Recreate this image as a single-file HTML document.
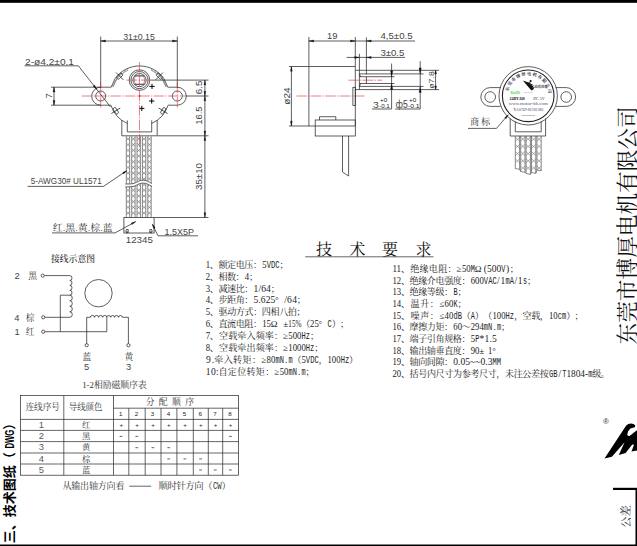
<!DOCTYPE html>
<html lang="zh-CN"><head><meta charset="utf-8"><title>技术图纸（DWG）</title>
<style>
html,body{margin:0;padding:0;background:#fff;}
body{width:637px;height:546px;overflow:hidden;}
svg{display:block;}
.l{stroke:#2a2a2a;stroke-width:.75;fill:none;}
.lt{stroke:#555;stroke-width:.55;fill:none;}
.lw{stroke:#444;stroke-width:.62;fill:none;}
.lw2{stroke:#4a4a4a;stroke-width:.65;fill:none;}
.lx2{stroke:#6a6a6a;stroke-width:.55;fill:none;}
.lx{stroke:#5a5a5a;stroke-width:.55;fill:none;}
.lm{stroke:#222;stroke-width:1.1;fill:none;}
.lk{stroke:#2a2a2a;stroke-width:.72;fill:none;}
.lg{stroke:#555;stroke-width:.9;fill:#ddd;}
.k{stroke:#000;stroke-width:1;fill:none;}
.r{stroke:#e0323c;stroke-width:.62;fill:none;stroke-dasharray:10.5 1.3 1.3 1.3;}
.rf{fill:#d22;stroke:none;}
.kf{fill:#111;stroke:none;}
.a{fill:#111;stroke:#111;stroke-width:.3;}
text{font-family:"Liberation Sans","Noto Sans CJK SC",sans-serif;fill:#444;}
.d{font-size:9.4px;}
.d7{font-size:7.4px;}
.d6{font-size:6.2px;fill:#222;}
.d5{font-size:5.8px;fill:#222;}
.c9,.c9s,.c9b,.c87,.t16,.co,.c11,.lab{font-family:"Liberation Serif","Noto Serif CJK SC",serif;}
.c9{font-size:8.8px;fill:#333;}
.c9s{font-size:9px;fill:#333;}
.c9b{font-size:8.8px;fill:#222;font-weight:500;}
.c87{font-size:8.7px;fill:#222;}
.mono{font-family:"Liberation Mono",monospace;}
.t16{font-size:16px;fill:#111;}
.co{font-size:21.6px;fill:#111;}
.lt2{font-family:"Liberation Sans","Noto Sans CJK SC",sans-serif;font-size:13px;font-weight:700;fill:#000;}
.c11{font-size:11px;fill:#223;}
.lab{fill:#222;}
</style></head>
<body>
<svg width="637" height="546" viewBox="0 0 637 546">
<rect x="0" y="0" width="637" height="546" fill="#fff"/>
<rect x="0" y="0" width="637" height="2.8" fill="#000"/>
<rect x="0" y="544.5" width="637" height="1.5" fill="#000"/>
<rect x="635.5" y="488" width="1.5" height="58" fill="#000"/>
<rect x="613" y="487.8" width="24" height="2.2" fill="#000"/>
<line class="l" x1="100.7" y1="36.5" x2="100.7" y2="88.0"/>
<line class="l" x1="177.3" y1="36.5" x2="177.3" y2="88.0"/>
<line class="l" x1="100.7" y1="41.0" x2="177.3" y2="41.0"/>
<polygon class="a" points="100.7,41.0 105.5,40.0 105.5,42.0"/>
<polygon class="a" points="177.3,41.0 172.5,42.0 172.5,40.0"/>
<text class="d" x="139.0" y="39.6" textLength="31.5" lengthAdjust="spacingAndGlyphs" text-anchor="middle">31±0.15</text>
<path class="l" d="M115.1,78.5 A30.0,30.0 0 0 1 163.9,78.5"/>
<path class="l" d="M115.1,78.5 L111.2,87.2 L100.7,87.2"/>
<path class="l" d="M163.9,78.5 L167.8,87.2 L177.3,87.2"/>
<path class="l" d="M100.7,87.2 A9,9 0 0 0 100.7,105.2"/>
<path class="l" d="M177.3,87.2 A9,9 0 0 1 177.3,105.2"/>
<path class="l" d="M100.7,105.2 L110.9,105.2 A30.0,30.0 0 0 0 127.3,123.4"/>
<path class="l" d="M177.3,105.2 L168.1,105.2 A30.0,30.0 0 0 1 151.7,123.4"/>
<path class="lt" d="M116.7,79.1 L112.9,87.2"/>
<path class="lt" d="M162.3,79.1 L166.1,87.2"/>
<circle class="l" cx="100.7" cy="96.0" r="5.0"/>
<circle class="l" cx="177.3" cy="96.0" r="5.0"/>
<path class="l" d="M121.8,120.2 V135.8 H157.2 V120.2"/>
<path class="l" d="M127.3,120.4 V131.9 H151.7 V120.4"/>
<circle class="l" cx="139.5" cy="80.1" r="10.3"/>
<circle class="l" cx="139.5" cy="80.1" r="8.6"/>
<circle class="l" cx="139.5" cy="80.1" r="6.6"/>
<rect class="lt" x="134.6" y="75.9" width="9.8" height="8.4" rx="2.2"/>
<line class="l" x1="134.4" y1="75.9" x2="144.6" y2="75.9"/>
<line class="l" x1="134.4" y1="84.3" x2="144.6" y2="84.3"/>
<path class="lt" d="M113.0,86.4 A28.2,28.2 0 0 1 128.0,70.2"/>
<path d="M112.2,86.0 A29.1,29.1 0 0 1 127.7,69.4" fill="none" stroke="#777" stroke-width="1.6" stroke-dasharray="0.5 1.1"/>
<path class="lt" d="M151.0,70.2 A28.2,28.2 0 0 1 166.0,86.4"/>
<path d="M151.3,69.4 A29.1,29.1 0 0 1 166.8,86.0" fill="none" stroke="#777" stroke-width="1.6" stroke-dasharray="0.5 1.1"/>
<g transform="translate(119.7,76.2) rotate(225)"><rect class="l" x="-1.5" y="-3.4" width="3" height="6.8" rx="1.2"/><line class="l" x1="-5.2" y1="0" x2="5.2" y2="0"/></g>
<g transform="translate(159.3,76.2) rotate(315)"><rect class="l" x="-1.5" y="-3.4" width="3" height="6.8" rx="1.2"/><line class="l" x1="-5.2" y1="0" x2="5.2" y2="0"/></g>
<g transform="translate(115.8,110.8) rotate(148)"><rect class="l" x="-1.5" y="-3.4" width="3" height="6.8" rx="1.2"/><line class="l" x1="-5.2" y1="0" x2="5.2" y2="0"/></g>
<g transform="translate(163.2,110.8) rotate(32)"><rect class="l" x="-1.5" y="-3.4" width="3" height="6.8" rx="1.2"/><line class="l" x1="-5.2" y1="0" x2="5.2" y2="0"/></g>
<path class="k" d="M149.4,86.4 H154.6 M152,83.80000000000001 V89.0"/>
<path class="k" d="M149.1,101 H154.29999999999998 M151.7,98.4 V103.6"/>
<path class="k" d="M139.20000000000002,108.4 H144.4 M141.8,105.80000000000001 V111.0"/>
<line class="r" x1="139.5" y1="62.0" x2="139.5" y2="148.0"/>
<line class="r" x1="81.7" y1="96.0" x2="185.5" y2="96.0"/>
<line class="r" x1="126.5" y1="80.1" x2="150.4" y2="80.1"/>
<line class="r" x1="100.7" y1="82.5" x2="100.7" y2="108.8"/>
<line class="r" x1="177.3" y1="82.5" x2="177.3" y2="108.8"/>
<circle class="rf" cx="139.5" cy="96.0" r="1.0"/>
<line class="l" x1="150.5" y1="80.1" x2="208.5" y2="80.1"/>
<line class="l" x1="185.5" y1="96.0" x2="208.5" y2="96.0"/>
<line class="l" x1="157.5" y1="135.8" x2="208.5" y2="135.8"/>
<line class="l" x1="154.5" y1="217.5" x2="208.5" y2="217.5"/>
<line class="l" x1="204.9" y1="80.1" x2="204.9" y2="217.5"/>
<polygon class="a" points="204.9,80.1 205.8,84.9 204.0,84.9"/>
<polygon class="a" points="204.9,96.0 204.0,91.2 205.8,91.2"/>
<polygon class="a" points="204.9,96.0 205.8,100.8 204.0,100.8"/>
<polygon class="a" points="204.9,135.8 204.0,131.0 205.8,131.0"/>
<polygon class="a" points="204.9,135.8 205.8,140.6 204.0,140.6"/>
<polygon class="a" points="204.9,217.5 204.0,212.7 205.8,212.7"/>
<text class="d" x="201.8" y="87.4" textLength="13.6" lengthAdjust="spacingAndGlyphs" transform="rotate(-90 201.8 87.4)" text-anchor="middle">6.5</text>
<text class="d" x="201.8" y="115.6" textLength="18.4" lengthAdjust="spacingAndGlyphs" transform="rotate(-90 201.8 115.6)" text-anchor="middle">16.5</text>
<text class="d" x="201.8" y="176.5" textLength="27.0" lengthAdjust="spacingAndGlyphs" transform="rotate(-90 201.8 176.5)" text-anchor="middle">35±10</text>
<line class="l" x1="51.0" y1="87.2" x2="100.7" y2="87.2"/>
<line class="l" x1="51.0" y1="105.2" x2="100.7" y2="105.2"/>
<line class="l" x1="54.0" y1="87.2" x2="54.0" y2="105.2"/>
<polygon class="a" points="54.0,87.2 55.0,92.0 53.0,92.0"/>
<polygon class="a" points="54.0,105.2 53.0,100.4 55.0,100.4"/>
<text class="d" x="51.5" y="96.0" transform="rotate(-90 51.5 96.0)" text-anchor="middle">7</text>
<text class="d" x="25.0" y="64.8" textLength="49.0" lengthAdjust="spacingAndGlyphs">2-ø4.2±0.1</text>
<path class="l" d="M24.5,65.8 H78.4 L110.5,107"/>
<polygon class="a" points="96.9,89.6 93.1,86.2 94.5,85.1"/>
<path class="lx" d="M126.3,137.3 L129.7,140.6 M129.7,137.3 L126.3,140.6 M126.3,143.0 L129.7,146.3 M129.7,143.0 L126.3,146.3 M126.3,148.7 L129.7,152.0 M129.7,148.7 L126.3,152.0 M126.3,154.4 L129.7,157.7 M129.7,154.4 L126.3,157.7 M126.3,160.1 L129.7,163.4 M129.7,160.1 L126.3,163.4 M126.3,165.8 L129.7,169.1 M129.7,165.8 L126.3,169.1 M126.3,171.5 L129.7,174.8 M129.7,171.5 L126.3,174.8 M126.3,177.2 L129.7,180.5 M129.7,177.2 L126.3,180.5 M126.3,182.9 L129.7,186.2 M129.7,182.9 L126.3,186.2 M126.3,188.6 L129.7,191.9 M129.7,188.6 L126.3,191.9 M126.3,194.3 L129.7,197.6 M129.7,194.3 L126.3,197.6 M126.3,200.0 L129.7,203.3 M129.7,200.0 L126.3,203.3 M126.3,205.7 L129.7,209.0 M129.7,205.7 L126.3,209.0 M126.3,211.4 L129.7,214.7 M129.7,211.4 L126.3,214.7 M131.7,137.3 L135.1,140.6 M135.1,137.3 L131.7,140.6 M131.7,143.0 L135.1,146.3 M135.1,143.0 L131.7,146.3 M131.7,148.7 L135.1,152.0 M135.1,148.7 L131.7,152.0 M131.7,154.4 L135.1,157.7 M135.1,154.4 L131.7,157.7 M131.7,160.1 L135.1,163.4 M135.1,160.1 L131.7,163.4 M131.7,165.8 L135.1,169.1 M135.1,165.8 L131.7,169.1 M131.7,171.5 L135.1,174.8 M135.1,171.5 L131.7,174.8 M131.7,177.2 L135.1,180.5 M135.1,177.2 L131.7,180.5 M131.7,182.9 L135.1,186.2 M135.1,182.9 L131.7,186.2 M131.7,188.6 L135.1,191.9 M135.1,188.6 L131.7,191.9 M131.7,194.3 L135.1,197.6 M135.1,194.3 L131.7,197.6 M131.7,200.0 L135.1,203.3 M135.1,200.0 L131.7,203.3 M131.7,205.7 L135.1,209.0 M135.1,205.7 L131.7,209.0 M131.7,211.4 L135.1,214.7 M135.1,211.4 L131.7,214.7 M137.0,137.3 L140.4,140.6 M140.4,137.3 L137.0,140.6 M137.0,143.0 L140.4,146.3 M140.4,143.0 L137.0,146.3 M137.0,148.7 L140.4,152.0 M140.4,148.7 L137.0,152.0 M137.0,154.4 L140.4,157.7 M140.4,154.4 L137.0,157.7 M137.0,160.1 L140.4,163.4 M140.4,160.1 L137.0,163.4 M137.0,165.8 L140.4,169.1 M140.4,165.8 L137.0,169.1 M137.0,171.5 L140.4,174.8 M140.4,171.5 L137.0,174.8 M137.0,177.2 L140.4,180.5 M140.4,177.2 L137.0,180.5 M137.0,182.9 L140.4,186.2 M140.4,182.9 L137.0,186.2 M137.0,188.6 L140.4,191.9 M140.4,188.6 L137.0,191.9 M137.0,194.3 L140.4,197.6 M140.4,194.3 L137.0,197.6 M137.0,200.0 L140.4,203.3 M140.4,200.0 L137.0,203.3 M137.0,205.7 L140.4,209.0 M140.4,205.7 L137.0,209.0 M137.0,211.4 L140.4,214.7 M140.4,211.4 L137.0,214.7 M142.4,137.3 L145.8,140.6 M145.8,137.3 L142.4,140.6 M142.4,143.0 L145.8,146.3 M145.8,143.0 L142.4,146.3 M142.4,148.7 L145.8,152.0 M145.8,148.7 L142.4,152.0 M142.4,154.4 L145.8,157.7 M145.8,154.4 L142.4,157.7 M142.4,160.1 L145.8,163.4 M145.8,160.1 L142.4,163.4 M142.4,165.8 L145.8,169.1 M145.8,165.8 L142.4,169.1 M142.4,171.5 L145.8,174.8 M145.8,171.5 L142.4,174.8 M142.4,177.2 L145.8,180.5 M145.8,177.2 L142.4,180.5 M142.4,182.9 L145.8,186.2 M145.8,182.9 L142.4,186.2 M142.4,188.6 L145.8,191.9 M145.8,188.6 L142.4,191.9 M142.4,194.3 L145.8,197.6 M145.8,194.3 L142.4,197.6 M142.4,200.0 L145.8,203.3 M145.8,200.0 L142.4,203.3 M142.4,205.7 L145.8,209.0 M145.8,205.7 L142.4,209.0 M142.4,211.4 L145.8,214.7 M145.8,211.4 L142.4,214.7 M147.8,137.3 L151.2,140.6 M151.2,137.3 L147.8,140.6 M147.8,143.0 L151.2,146.3 M151.2,143.0 L147.8,146.3 M147.8,148.7 L151.2,152.0 M151.2,148.7 L147.8,152.0 M147.8,154.4 L151.2,157.7 M151.2,154.4 L147.8,157.7 M147.8,160.1 L151.2,163.4 M151.2,160.1 L147.8,163.4 M147.8,165.8 L151.2,169.1 M151.2,165.8 L147.8,169.1 M147.8,171.5 L151.2,174.8 M151.2,171.5 L147.8,174.8 M147.8,177.2 L151.2,180.5 M151.2,177.2 L147.8,180.5 M147.8,182.9 L151.2,186.2 M151.2,182.9 L147.8,186.2 M147.8,188.6 L151.2,191.9 M151.2,188.6 L147.8,191.9 M147.8,194.3 L151.2,197.6 M151.2,194.3 L147.8,197.6 M147.8,200.0 L151.2,203.3 M151.2,200.0 L147.8,203.3 M147.8,205.7 L151.2,209.0 M151.2,205.7 L147.8,209.0 M147.8,211.4 L151.2,214.7 M151.2,211.4 L147.8,214.7"/>
<line class="lw" x1="126.3" y1="136.3" x2="126.3" y2="217.5"/>
<line class="lw" x1="129.7" y1="136.3" x2="129.7" y2="217.5"/>
<line class="lw" x1="131.7" y1="136.3" x2="131.7" y2="217.5"/>
<line class="lw" x1="135.1" y1="136.3" x2="135.1" y2="217.5"/>
<line class="lw" x1="137.0" y1="136.3" x2="137.0" y2="217.5"/>
<line class="lw" x1="140.4" y1="136.3" x2="140.4" y2="217.5"/>
<line class="lw" x1="142.4" y1="136.3" x2="142.4" y2="217.5"/>
<line class="lw" x1="145.8" y1="136.3" x2="145.8" y2="217.5"/>
<line class="lw" x1="147.8" y1="136.3" x2="147.8" y2="217.5"/>
<line class="lw" x1="151.2" y1="136.3" x2="151.2" y2="217.5"/>
<path d="M125.4,185.4 C131,185.4 133.5,185.4 136.5,183.8 S141,181.6 143.6,181.6 S148.5,183.2 152,184.9" fill="none" stroke="#fff" stroke-width="3.3"/>
<path class="l" d="M125.4,184.0 C131,184.0 133.5,184.0 136.5,182.3 S141,180.2 143.6,180.2 S148.5,181.8 152,183.5"/>
<path class="l" d="M125.4,186.9 C131,186.9 133.5,186.9 136.5,185.2 S141,183.1 143.6,183.1 S148.5,184.7 152,186.4"/>
<rect class="l" x="123.9" y="217.5" width="30.2" height="15.5"/>
<path class="l" d="M124.6,231 h2.4 v2 M153.4,231 h-2.4 v2 M126,229.5 h2.2 v3.2 h-2.2 M152,229.5 h-2.2 v3.2 h2.2"/>
<text class="d" x="139.3" y="242.6" textLength="27.0" lengthAdjust="spacingAndGlyphs" text-anchor="middle">12345</text>
<text class="d" x="164.5" y="235.0" textLength="29.5" lengthAdjust="spacingAndGlyphs">1.5X5P</text>
<path class="l" d="M198,235.8 H158 L152.5,224.5"/>
<polygon class="a" points="152.3,224.0 155.1,227.7 153.5,228.4"/>
<text class="d" x="30.7" y="183.9" textLength="71.0" lengthAdjust="spacingAndGlyphs">5-AWG30# UL1571</text>
<path class="l" d="M27.6,186.4 H103.5 L126.6,170.8"/>
<polygon class="a" points="126.9,170.6 123.7,173.9 122.7,172.4"/>
<text class="c9" x="52.8" y="230.5" textLength="60.0" lengthAdjust="spacingAndGlyphs">红.黑.黄.棕.蓝</text>
<path class="l" d="M52,232.9 H115 L135.5,221.8"/>
<polygon class="a" points="135.7,221.6 132.1,224.5 131.3,222.9"/>
<line class="l" x1="308.9" y1="37.0" x2="308.9" y2="126.0"/>
<line class="l" x1="355.3" y1="37.0" x2="355.3" y2="126.0"/>
<line class="l" x1="308.9" y1="66.5" x2="355.3" y2="66.5"/>
<line class="l" x1="308.9" y1="126.0" x2="315.2" y2="126.0"/>
<line class="l" x1="308.9" y1="41.0" x2="415.0" y2="41.0"/>
<polygon class="a" points="308.9,41.0 313.7,40.0 313.7,42.0"/>
<polygon class="a" points="355.3,41.0 350.5,42.0 350.5,40.0"/>
<polygon class="a" points="366.4,41.0 371.2,40.0 371.2,42.0"/>
<text class="d" x="332.3" y="39.4" text-anchor="middle">19</text>
<text class="d" x="380.4" y="39.2" textLength="32.2" lengthAdjust="spacingAndGlyphs">4,5±0.5</text>
<line class="l" x1="346.6" y1="57.4" x2="405.0" y2="57.4"/>
<polygon class="a" points="359.4,57.4 354.6,58.4 354.6,56.4"/>
<polygon class="a" points="366.4,57.4 371.2,56.4 371.2,58.4"/>
<text class="d" x="380.4" y="55.6" textLength="24.0" lengthAdjust="spacingAndGlyphs">3±0.5</text>
<line class="l" x1="359.4" y1="53.8" x2="359.4" y2="70.3"/>
<line class="l" x1="366.4" y1="37.4" x2="366.4" y2="74.5"/>
<line class="l" x1="289.0" y1="66.5" x2="308.9" y2="66.5"/>
<line class="l" x1="289.0" y1="126.0" x2="308.9" y2="126.0"/>
<line class="l" x1="291.4" y1="66.5" x2="291.4" y2="126.0"/>
<polygon class="a" points="291.4,66.5 292.3,71.3 290.4,71.3"/>
<polygon class="a" points="291.4,126.0 290.4,121.2 292.3,121.2"/>
<text class="d" x="290.0" y="96.0" textLength="17.3" lengthAdjust="spacingAndGlyphs" transform="rotate(-90 290.0 96.0)" text-anchor="middle">ø24</text>
<line class="r" x1="296.4" y1="96.0" x2="365.0" y2="96.0"/>
<line class="r" x1="348.4" y1="80.2" x2="382.0" y2="80.2"/>
<path class="l" d="M355.3,70.3 H439 M355.3,89.6 H439 M359.4,70.3 V89.6"/>
<path class="l" d="M359.4,73.9 H423.5 M359.4,86.4 H423.5 M359.4,76.7 H394.5 M359.4,83.5 H394.5 M366.4,76.7 V83.5"/>
<path class="l" d="M359.4,73.9 L360.6,76.7 M359.4,86.4 L360.6,83.5"/>
<rect class="l" x="352.9" y="87.3" width="2.4" height="18.2"/>
<line class="l" x1="391.6" y1="63.5" x2="391.6" y2="109.0"/>
<polygon class="a" points="391.6,76.7 390.5,70.7 392.8,70.7"/>
<polygon class="a" points="391.6,83.5 392.8,89.5 390.5,89.5"/>
<line class="l" x1="420.2" y1="61.2" x2="420.2" y2="109.0"/>
<polygon class="a" points="420.2,73.9 419.1,67.9 421.3,67.9"/>
<polygon class="a" points="420.2,86.4 421.3,92.4 419.1,92.4"/>
<line class="l" x1="435.6" y1="70.3" x2="435.6" y2="89.6"/>
<polygon class="a" points="435.6,70.3 436.6,73.9 434.7,73.9"/>
<polygon class="a" points="435.6,89.6 434.7,86.0 436.6,86.0"/>
<text class="d7" x="433.8" y="80.0" textLength="17.5" lengthAdjust="spacingAndGlyphs" transform="rotate(-90 433.8 80.0)" text-anchor="middle">ø7.8</text>
<line class="l" x1="372.0" y1="109.0" x2="391.6" y2="109.0"/>
<line class="l" x1="395.2" y1="109.0" x2="420.2" y2="109.0"/>
<text class="d" x="373.0" y="107.6" textLength="5.8" lengthAdjust="spacingAndGlyphs">3</text>
<text class="d5" x="380.0" y="101.6" textLength="7.2" lengthAdjust="spacingAndGlyphs">+0</text>
<text class="d5" x="379.2" y="107.8" textLength="10.6" lengthAdjust="spacingAndGlyphs">-0.1</text>
<text class="d" x="395.8" y="107.6" textLength="12.0" lengthAdjust="spacingAndGlyphs" style="font-size:10px">ф5</text>
<text class="d5" x="409.0" y="101.6" textLength="7.2" lengthAdjust="spacingAndGlyphs">+0</text>
<text class="d5" x="408.0" y="107.8" textLength="11.5" lengthAdjust="spacingAndGlyphs">-0.1</text>
<rect class="l" x="315.2" y="120.0" width="40.1" height="16.0"/>
<line class="l" x1="315.2" y1="126.0" x2="355.3" y2="126.0"/>
<path class="l" d="M319.5,120 V116.7 H335.8 V120"/>
<path class="l" d="M342.5,136 V172 L348.6,176 V136"/>
<circle class="l" cx="528.2" cy="95.8" r="29.2"/>
<circle class="lm" cx="528.2" cy="95.8" r="25.8"/>
<path class="l" d="M500.6,87.6 H490.2 A9.4,9.4 0 0 0 490.2,106.4 H500.6"/>
<circle class="l" cx="490.2" cy="97.0" r="5.3"/>
<path class="l" d="M555.8,87.6 H566.2 A9.4,9.4 0 0 1 566.2,106.4 H555.8"/>
<circle class="l" cx="566.2" cy="97.0" r="5.3"/>
<path class="l" d="M510.2,118.5 V136 H545.6 V118.5"/>
<path class="l" d="M515.3,121.5 V131.8 H541.2 V121.5"/>
<path class="lw2" d="M515.3,136 V168.5 M519.6,136 V169.3"/>
<path class="lx2" d="M515.3,137.2 L519.6,141.2 M519.6,137.2 L515.3,141.2 M515.3,144.4 L519.6,148.4 M519.6,144.4 L515.3,148.4 M515.3,151.6 L519.6,155.6 M519.6,151.6 L515.3,155.6 M515.3,158.8 L519.6,162.8 M519.6,158.8 L515.3,162.8"/>
<path class="lw2" d="M520.7,136 V171.5 M525.0,136 V172.3"/>
<path class="lx2" d="M520.7,137.2 L525.0,141.2 M525.0,137.2 L520.7,141.2 M520.7,144.4 L525.0,148.4 M525.0,144.4 L520.7,148.4 M520.7,151.6 L525.0,155.6 M525.0,151.6 L520.7,155.6 M520.7,158.8 L525.0,162.8 M525.0,158.8 L520.7,162.8 M520.7,166.0 L525.0,170.0 M525.0,166.0 L520.7,170.0"/>
<path class="lw2" d="M526.1,136 V173.5 M530.4,136 V174.3"/>
<path class="lx2" d="M526.1,137.2 L530.4,141.2 M530.4,137.2 L526.1,141.2 M526.1,144.4 L530.4,148.4 M530.4,144.4 L526.1,148.4 M526.1,151.6 L530.4,155.6 M530.4,151.6 L526.1,155.6 M526.1,158.8 L530.4,162.8 M530.4,158.8 L526.1,162.8 M526.1,166.0 L530.4,170.0 M530.4,166.0 L526.1,170.0"/>
<path class="lw2" d="M531.5,136 V172.5 M535.8,136 V173.3"/>
<path class="lx2" d="M531.5,137.2 L535.8,141.2 M535.8,137.2 L531.5,141.2 M531.5,144.4 L535.8,148.4 M535.8,144.4 L531.5,148.4 M531.5,151.6 L535.8,155.6 M535.8,151.6 L531.5,155.6 M531.5,158.8 L535.8,162.8 M535.8,158.8 L531.5,162.8 M531.5,166.0 L535.8,170.0 M535.8,166.0 L531.5,170.0"/>
<path class="lw2" d="M536.9,136 V170 M541.2,136 V170.8"/>
<path class="lx2" d="M536.9,137.2 L541.2,141.2 M541.2,137.2 L536.9,141.2 M536.9,144.4 L541.2,148.4 M541.2,144.4 L536.9,148.4 M536.9,151.6 L541.2,155.6 M541.2,151.6 L536.9,155.6 M536.9,158.8 L541.2,162.8 M541.2,158.8 L536.9,162.8 M536.9,166.0 L541.2,170.0 M541.2,166.0 L536.9,170.0"/>
<path class="lw2" d="M515.3,168.5 L519.6,169.3 L520.7,171.5 L525,172.3 L526.1,173.5 L530.4,174.3 L531.5,172.5 L535.8,173.3 L536.9,170 L541.2,170.8"/>
<path id="arc" d="M508.2,91.9 A20.4,20.4 0 0 1 548.6,94.4" fill="none"/>
<text class="lab" style="font-size:4.3px;font-weight:700;fill:#223"><textPath href="#arc" startOffset="0.5" textLength="57" lengthAdjust="spacing">东莞市博厚电机有限公司</textPath></text>
<path d="M522.8000000000001,80.6 l8.6,9.8 l1.8,-0.9 l1.4,-2.6 l-2.2,0.6 l1.6,-2 l-2.4,0.3 l1.2,-1.8 l-2.6,0.2 l0.6,-1.7 l-3,-0.2 z" fill="#111"/>
<circle class="kf" cx="530.6" cy="81.0" r="1.1"/>
<text class="lab" x="534.5" y="88.2" textLength="13.0" lengthAdjust="spacingAndGlyphs" style="font-size:3.8px;font-weight:700;fill:#333">励博机电</text>
<text class="lab" x="528.2" y="93.0" textLength="9.0" lengthAdjust="spacingAndGlyphs" text-anchor="middle" style="font-size:2px;fill:#666">BO HOU</text>
<text class="lab" x="510.6" y="94.2" textLength="9.5" lengthAdjust="spacingAndGlyphs" style="font-size:4px;fill:#35e035;font-weight:bold">RoHS</text>
<text class="lab" x="509.6" y="99.6" textLength="15.2" lengthAdjust="spacingAndGlyphs" style="font-size:3.8px;font-weight:bold;fill:#111">24BYJ48</text>
<text class="lab" x="533.2" y="99.6" textLength="11.4" lengthAdjust="spacingAndGlyphs" style="font-size:4px;fill:#333">DC 5V</text>
<text class="lab" x="528.2" y="105.2" textLength="39.0" lengthAdjust="spacingAndGlyphs" text-anchor="middle" style="font-size:3px;fill:#556">www.motor-bh.com</text>
<text class="lab" x="528.2" y="111.4" textLength="30.0" lengthAdjust="spacingAndGlyphs" text-anchor="middle" style="font-size:3.2px;fill:#445">Tel:0769-82181380</text>
<text class="lab" x="528.2" y="115.6" textLength="13.5" lengthAdjust="spacingAndGlyphs" text-anchor="middle" style="font-size:2.6px;fill:#666">20090909</text>
<text class="c9" x="470.2" y="124.6" textLength="20.0" lengthAdjust="spacingAndGlyphs">商 标</text>
<path class="l" d="M468,128.4 H496.5 L508,115"/>
<polygon class="a" points="508.3,114.8 506.1,118.8 504.7,117.7"/>
<text class="c9b" x="51.0" y="261.6" textLength="44.0" lengthAdjust="spacingAndGlyphs">接线示意图</text>
<circle class="l" cx="42.7" cy="275.6" r="1.6"/>
<circle class="l" cx="43.2" cy="317.3" r="1.6"/>
<circle class="l" cx="43.2" cy="331.7" r="1.6"/>
<circle class="l" cx="86.7" cy="345.2" r="1.6"/>
<circle class="l" cx="128.4" cy="345.2" r="1.6"/>
<path class="l" d="M44.4,275.6 H69.8"/>
<path class="l" d="M69.8,275.6 a2.20,2.45 0 0 1 0,4.90 a2.20,2.45 0 0 1 0,4.90 a2.20,2.45 0 0 1 0,4.90 a2.20,2.45 0 0 1 0,4.90"/>
<path class="l" d="M69.8,295.2 a2.49,2.76 0 0 1 0,5.53 a2.49,2.76 0 0 1 0,5.53 a2.49,2.76 0 0 1 0,5.53 a2.49,2.76 0 0 1 0,5.53"/>
<path class="l" d="M69.8,295.2 H60.3 V331.7"/>
<path class="l" d="M44.9,317.3 H69.8"/>
<path class="l" d="M44.9,331.7 H106.8 V317.3"/>
<path class="l" d="M86.7,343.5 V317.3 H90.4"/>
<path class="l" d="M90.4,317.3 a2.05,1.84 0 0 1 4.10,0 a2.05,1.84 0 0 1 4.10,0 a2.05,1.84 0 0 1 4.10,0 a2.05,1.84 0 0 1 4.10,0"/>
<path class="l" d="M106.8,317.3 a1.95,1.76 0 0 1 3.90,0 a1.95,1.76 0 0 1 3.90,0 a1.95,1.76 0 0 1 3.90,0 a1.95,1.76 0 0 1 3.90,0"/>
<path class="l" d="M122.4,317.3 H128.4 V343.5"/>
<circle class="l" cx="98.5" cy="293.2" r="13.7"/>
<text class="d" x="14.6" y="278.9">2</text>
<text class="c9" x="28.2" y="278.9">黑</text>
<text class="d" x="14.2" y="321.0">4</text>
<text class="c9" x="25.8" y="321.0">棕</text>
<text class="d" x="14.6" y="335.2">1</text>
<text class="c9" x="25.8" y="335.2">红</text>
<text class="c9" x="86.9" y="359.6" text-anchor="middle">蓝</text>
<text class="d" x="86.7" y="370.0" text-anchor="middle">5</text>
<text class="c9" x="129.0" y="359.6" text-anchor="middle">黄</text>
<text class="d" x="128.6" y="370.0" text-anchor="middle">3</text>
<text class="c9" x="82.2" y="388.2" textLength="64.5" lengthAdjust="spacingAndGlyphs">1-2相励磁顺序表</text>
<rect class="lk" x="20.6" y="395.4" width="217.9" height="79.8"/>
<line class="lk" x1="20.6" y1="419.4" x2="238.5" y2="419.4"/>
<line class="lk" x1="20.6" y1="430.4" x2="238.5" y2="430.4"/>
<line class="lk" x1="20.6" y1="441.6" x2="238.5" y2="441.6"/>
<line class="lk" x1="20.6" y1="453.0" x2="238.5" y2="453.0"/>
<line class="lk" x1="20.6" y1="464.0" x2="238.5" y2="464.0"/>
<line class="lk" x1="113.5" y1="408.2" x2="238.5" y2="408.2"/>
<line class="lk" x1="63.8" y1="395.4" x2="63.8" y2="475.2"/>
<line class="lk" x1="113.5" y1="395.4" x2="113.5" y2="475.2"/>
<line class="lk" x1="128.8" y1="408.2" x2="128.8" y2="475.2"/>
<line class="lk" x1="145.2" y1="408.2" x2="145.2" y2="475.2"/>
<line class="lk" x1="161.0" y1="408.2" x2="161.0" y2="475.2"/>
<line class="lk" x1="176.9" y1="408.2" x2="176.9" y2="475.2"/>
<line class="lk" x1="193.3" y1="408.2" x2="193.3" y2="475.2"/>
<line class="lk" x1="208.3" y1="408.2" x2="208.3" y2="475.2"/>
<line class="lk" x1="222.7" y1="408.2" x2="222.7" y2="475.2"/>
<text class="c9" x="25.4" y="410.4" textLength="34.5" lengthAdjust="spacingAndGlyphs">连线序号</text>
<text class="c9" x="68.8" y="410.4" textLength="33.5" lengthAdjust="spacingAndGlyphs">导线颜色</text>
<text class="c9" x="145.7" y="405.0" textLength="48.3" lengthAdjust="spacing">分 配 顺 序</text>
<text class="d6" x="120.7" y="416.0" text-anchor="middle">1</text>
<text class="d6" x="121.2" y="427.4" text-anchor="middle">+</text>
<text class="d6" x="136.5" y="416.0" text-anchor="middle">2</text>
<text class="d6" x="137.0" y="427.4" text-anchor="middle">+</text>
<text class="d6" x="152.6" y="416.0" text-anchor="middle">3</text>
<text class="d6" x="153.1" y="427.4" text-anchor="middle">+</text>
<text class="d6" x="168.4" y="416.0" text-anchor="middle">4</text>
<text class="d6" x="168.9" y="427.4" text-anchor="middle">+</text>
<text class="d6" x="184.6" y="416.0" text-anchor="middle">5</text>
<text class="d6" x="185.1" y="427.4" text-anchor="middle">+</text>
<text class="d6" x="200.3" y="416.0" text-anchor="middle">6</text>
<text class="d6" x="200.8" y="427.4" text-anchor="middle">+</text>
<text class="d6" x="215.0" y="416.0" text-anchor="middle">7</text>
<text class="d6" x="215.5" y="427.4" text-anchor="middle">+</text>
<text class="d6" x="230.1" y="416.0" text-anchor="middle">8</text>
<text class="d6" x="230.6" y="427.4" text-anchor="middle">+</text>
<text class="d" x="41.4" y="428.0" text-anchor="middle" style="fill:#5a5a5a">1</text>
<text class="c9" x="86.3" y="428.0" text-anchor="middle" style="font-size:8.4px">红</text>
<text class="d" x="41.4" y="439.1" text-anchor="middle" style="fill:#5a5a5a">2</text>
<text class="c9" x="86.3" y="439.1" text-anchor="middle" style="font-size:8.4px">黑</text>
<line class="lk" x1="119.6" y1="436.4" x2="122.4" y2="436.4"/>
<line class="lk" x1="135.4" y1="436.4" x2="138.2" y2="436.4"/>
<line class="lk" x1="229.0" y1="436.4" x2="231.8" y2="436.4"/>
<text class="d" x="41.4" y="450.4" text-anchor="middle" style="fill:#5a5a5a">3</text>
<text class="c9" x="86.3" y="450.4" text-anchor="middle" style="font-size:8.4px">黄</text>
<line class="lk" x1="135.4" y1="447.7" x2="138.2" y2="447.7"/>
<line class="lk" x1="151.5" y1="447.7" x2="154.3" y2="447.7"/>
<line class="lk" x1="167.3" y1="447.7" x2="170.1" y2="447.7"/>
<text class="d" x="41.4" y="461.6" text-anchor="middle" style="fill:#5a5a5a">4</text>
<text class="c9" x="86.3" y="461.6" text-anchor="middle" style="font-size:8.4px">棕</text>
<line class="lk" x1="167.3" y1="458.9" x2="170.1" y2="458.9"/>
<line class="lk" x1="183.5" y1="458.9" x2="186.3" y2="458.9"/>
<line class="lk" x1="199.2" y1="458.9" x2="202.0" y2="458.9"/>
<text class="d" x="41.4" y="472.7" text-anchor="middle" style="fill:#5a5a5a">5</text>
<text class="c9" x="86.3" y="472.7" text-anchor="middle" style="font-size:8.4px">蓝</text>
<line class="lk" x1="199.2" y1="470.0" x2="202.0" y2="470.0"/>
<line class="lk" x1="213.9" y1="470.0" x2="216.7" y2="470.0"/>
<line class="lk" x1="229.0" y1="470.0" x2="231.8" y2="470.0"/>
<text class="c9s" x="62.4" y="489.4" textLength="62.0" lengthAdjust="spacing">从输出轴方向看</text>
<line class="lk" x1="129.2" y1="486.2" x2="151.2" y2="486.2"/>
<text class="c9s" y="489.4" xml:space="preserve"><tspan font-size="9.40" x="158.60" textLength="54.00" lengthAdjust="spacing">顺时针方向（</tspan><tspan class="mono" font-size="10.89" x="212.90" textLength="8.80" lengthAdjust="spacingAndGlyphs">CW</tspan><tspan font-size="9.40" x="221.60" textLength="9.00" lengthAdjust="spacing">）</tspan></text>
<text class="t16" x="316.0" y="254.6">技</text>
<text class="t16" x="349.5" y="254.6">术</text>
<text class="t16" x="382.0" y="254.6">要</text>
<text class="t16" x="415.6" y="254.6">求</text>
<line class="lk" x1="305.2" y1="256.8" x2="433.5" y2="256.8"/>
<text class="c87" y="267.7" xml:space="preserve"><tspan font-size="9.57" x="205.70" textLength="4.35" lengthAdjust="spacingAndGlyphs">1</tspan><tspan font-size="9.09" x="209.85" textLength="52.20" lengthAdjust="spacing">、额定电压：</tspan><tspan font-size="9.57" x="262.25" textLength="4.35" lengthAdjust="spacingAndGlyphs">5</tspan><tspan class="mono" font-size="10.53" x="266.70" textLength="12.85" lengthAdjust="spacingAndGlyphs">VDC</tspan><tspan font-size="9.09" x="279.45" textLength="8.70" lengthAdjust="spacing">；</tspan></text>
<text class="c87" y="279.6" xml:space="preserve"><tspan font-size="9.57" x="205.70" textLength="4.35" lengthAdjust="spacingAndGlyphs">2</tspan><tspan font-size="9.09" x="209.85" textLength="34.80" lengthAdjust="spacing">、相数：</tspan><tspan font-size="9.57" x="244.85" textLength="4.35" lengthAdjust="spacingAndGlyphs">4</tspan><tspan font-size="9.09" x="249.00" textLength="8.70" lengthAdjust="spacing">；</tspan></text>
<text class="c87" y="291.5" xml:space="preserve"><tspan font-size="9.57" x="205.70" textLength="4.35" lengthAdjust="spacingAndGlyphs">3</tspan><tspan font-size="9.09" x="209.85" textLength="43.50" lengthAdjust="spacing">、减速比：</tspan><tspan font-size="9.57" x="253.60" textLength="17.30" lengthAdjust="spacing">1/64</tspan><tspan font-size="9.09" x="270.75" textLength="8.70" lengthAdjust="spacing">；</tspan></text>
<text class="c87" y="303.4" xml:space="preserve"><tspan font-size="9.57" x="205.70" textLength="4.35" lengthAdjust="spacingAndGlyphs">4</tspan><tspan font-size="9.09" x="209.85" textLength="43.50" lengthAdjust="spacing">、步距角：</tspan><tspan font-size="9.57" x="253.57" textLength="21.71" lengthAdjust="spacing">5.625</tspan><tspan font-size="9.09" x="275.10" textLength="8.70" lengthAdjust="spacing">°</tspan><tspan font-size="9.57" x="284.14" textLength="12.78" lengthAdjust="spacing">/64</tspan><tspan font-size="9.09" x="296.85" textLength="8.70" lengthAdjust="spacing">；</tspan></text>
<text class="c87" y="315.3" xml:space="preserve"><tspan font-size="9.57" x="205.70" textLength="4.35" lengthAdjust="spacingAndGlyphs">5</tspan><tspan font-size="9.09" x="209.85" textLength="95.70" lengthAdjust="spacing">、驱动方式：四相八拍；</tspan></text>
<text class="c87" y="327.2" xml:space="preserve"><tspan font-size="9.57" x="205.70" textLength="4.35" lengthAdjust="spacingAndGlyphs">6</tspan><tspan font-size="9.09" x="209.85" textLength="52.20" lengthAdjust="spacing">、直流电阻：</tspan><tspan font-size="9.57" x="262.25" textLength="8.70" lengthAdjust="spacingAndGlyphs">15</tspan><tspan font-size="9.09" x="270.75" textLength="17.40" lengthAdjust="spacing">Ω±</tspan><tspan font-size="9.57" x="288.35" textLength="13.05" lengthAdjust="spacingAndGlyphs">15%</tspan><tspan font-size="9.09" x="301.20" textLength="8.70" lengthAdjust="spacing">（</tspan><tspan font-size="9.57" x="310.10" textLength="8.70" lengthAdjust="spacingAndGlyphs">25</tspan><tspan font-size="9.09" x="318.60" textLength="8.70" lengthAdjust="spacing">°</tspan><tspan class="mono" font-size="10.53" x="327.60" textLength="4.15" lengthAdjust="spacingAndGlyphs">C</tspan><tspan font-size="9.09" x="331.65" textLength="17.40" lengthAdjust="spacing">）；</tspan></text>
<text class="c87" y="339.1" xml:space="preserve"><tspan font-size="9.57" x="205.70" textLength="4.35" lengthAdjust="spacingAndGlyphs">7</tspan><tspan font-size="9.09" x="209.85" textLength="78.30" lengthAdjust="spacing">、空载牵入频率：≥</tspan><tspan font-size="9.57" x="288.35" textLength="13.05" lengthAdjust="spacingAndGlyphs">500</tspan><tspan class="mono" font-size="10.53" x="301.50" textLength="8.50" lengthAdjust="spacingAndGlyphs">Hz</tspan><tspan font-size="9.09" x="309.90" textLength="8.70" lengthAdjust="spacing">；</tspan></text>
<text class="c87" y="351.0" xml:space="preserve"><tspan font-size="9.57" x="205.70" textLength="4.35" lengthAdjust="spacingAndGlyphs">8</tspan><tspan font-size="9.09" x="209.85" textLength="78.30" lengthAdjust="spacing">、空载牵出频率：≥</tspan><tspan font-size="9.57" x="288.35" textLength="17.40" lengthAdjust="spacingAndGlyphs">1000</tspan><tspan class="mono" font-size="10.53" x="305.85" textLength="8.50" lengthAdjust="spacingAndGlyphs">Hz</tspan><tspan font-size="9.09" x="314.25" textLength="8.70" lengthAdjust="spacing">；</tspan></text>
<text class="c87" y="362.9" xml:space="preserve"><tspan font-size="9.57" x="206.08" textLength="7.94" lengthAdjust="spacing">9.</tspan><tspan font-size="9.09" x="214.20" textLength="52.20" lengthAdjust="spacing">牵入转矩：≥</tspan><tspan font-size="9.57" x="266.60" textLength="8.70" lengthAdjust="spacingAndGlyphs">80</tspan><tspan class="mono" font-size="10.53" x="275.40" textLength="8.50" lengthAdjust="spacingAndGlyphs">mN</tspan><tspan font-size="9.57" x="284.98" textLength="2.39" lengthAdjust="spacing">.</tspan><tspan class="mono" font-size="10.53" x="288.45" textLength="4.15" lengthAdjust="spacingAndGlyphs">m</tspan><tspan font-size="9.09" x="292.50" textLength="8.70" lengthAdjust="spacing">（</tspan><tspan font-size="9.57" x="301.40" textLength="4.35" lengthAdjust="spacingAndGlyphs">5</tspan><tspan class="mono" font-size="10.53" x="305.85" textLength="12.85" lengthAdjust="spacingAndGlyphs">VDC</tspan><tspan font-size="9.09" x="318.60" textLength="8.70" lengthAdjust="spacing">，</tspan><tspan font-size="9.57" x="327.50" textLength="13.05" lengthAdjust="spacingAndGlyphs">100</tspan><tspan class="mono" font-size="10.53" x="340.65" textLength="8.50" lengthAdjust="spacingAndGlyphs">Hz</tspan><tspan font-size="9.09" x="349.05" textLength="8.70" lengthAdjust="spacing">）</tspan></text>
<text class="c87" y="374.8" xml:space="preserve"><tspan font-size="9.57" x="205.84" textLength="12.78" lengthAdjust="spacing">10:</tspan><tspan font-size="9.09" x="218.55" textLength="60.90" lengthAdjust="spacing">自定位转矩：≥</tspan><tspan font-size="9.57" x="279.65" textLength="8.70" lengthAdjust="spacingAndGlyphs">50</tspan><tspan class="mono" font-size="10.53" x="288.45" textLength="8.50" lengthAdjust="spacingAndGlyphs">mN</tspan><tspan font-size="9.57" x="298.03" textLength="2.39" lengthAdjust="spacing">.</tspan><tspan class="mono" font-size="10.53" x="301.50" textLength="4.15" lengthAdjust="spacingAndGlyphs">m</tspan><tspan font-size="9.09" x="305.55" textLength="8.70" lengthAdjust="spacing">；</tspan></text>
<text class="c87" y="272.0" xml:space="preserve"><tspan font-size="9.57" x="392.40" textLength="8.70" lengthAdjust="spacingAndGlyphs">11</tspan><tspan font-size="9.09" x="400.90" textLength="60.90" lengthAdjust="spacing">、绝缘电阻：≥</tspan><tspan font-size="9.57" x="462.00" textLength="8.70" lengthAdjust="spacingAndGlyphs">50</tspan><tspan class="mono" font-size="10.53" x="470.80" textLength="4.15" lengthAdjust="spacingAndGlyphs">M</tspan><tspan font-size="9.09" x="474.85" textLength="8.70" lengthAdjust="spacing">Ω</tspan><tspan font-size="9.57" x="483.75" textLength="17.40" lengthAdjust="spacingAndGlyphs">(500</tspan><tspan class="mono" font-size="10.53" x="501.25" textLength="4.15" lengthAdjust="spacingAndGlyphs">V</tspan><tspan font-size="9.57" x="506.08" textLength="3.19" lengthAdjust="spacing">)</tspan><tspan font-size="9.09" x="509.65" textLength="8.70" lengthAdjust="spacing">；</tspan></text>
<text class="c87" y="283.6" xml:space="preserve"><tspan font-size="9.57" x="392.40" textLength="8.70" lengthAdjust="spacingAndGlyphs">12</tspan><tspan font-size="9.09" x="400.90" textLength="69.60" lengthAdjust="spacing">、绝缘介电强度：</tspan><tspan font-size="9.57" x="470.70" textLength="13.05" lengthAdjust="spacingAndGlyphs">600</tspan><tspan class="mono" font-size="10.53" x="483.85" textLength="12.85" lengthAdjust="spacingAndGlyphs">VAC</tspan><tspan font-size="9.57" x="497.11" textLength="8.07" lengthAdjust="spacing">/1</tspan><tspan class="mono" font-size="10.53" x="505.60" textLength="8.50" lengthAdjust="spacingAndGlyphs">mA</tspan><tspan font-size="9.57" x="514.51" textLength="8.07" lengthAdjust="spacing">/1</tspan><tspan class="mono" font-size="10.53" x="523.00" textLength="4.15" lengthAdjust="spacingAndGlyphs">s</tspan><tspan font-size="9.09" x="527.05" textLength="8.70" lengthAdjust="spacing">；</tspan></text>
<text class="c87" y="295.3" xml:space="preserve"><tspan font-size="9.57" x="392.40" textLength="8.70" lengthAdjust="spacingAndGlyphs">13</tspan><tspan font-size="9.09" x="400.90" textLength="52.20" lengthAdjust="spacing">、绝缘等级：</tspan><tspan class="mono" font-size="10.53" x="453.40" textLength="4.15" lengthAdjust="spacingAndGlyphs">B</tspan><tspan font-size="9.09" x="457.45" textLength="8.70" lengthAdjust="spacing">；</tspan></text>
<text class="c87" y="306.9" xml:space="preserve"><tspan font-size="9.57" x="392.40" textLength="8.70" lengthAdjust="spacingAndGlyphs">14</tspan><tspan font-size="9.09" x="400.90" textLength="43.50" lengthAdjust="spacing">、温升：≤</tspan><tspan font-size="9.57" x="444.60" textLength="8.70" lengthAdjust="spacingAndGlyphs">60</tspan><tspan class="mono" font-size="10.53" x="453.40" textLength="4.15" lengthAdjust="spacingAndGlyphs">K</tspan><tspan font-size="9.09" x="457.45" textLength="8.70" lengthAdjust="spacing">；</tspan></text>
<text class="c87" y="318.6" xml:space="preserve"><tspan font-size="9.57" x="392.40" textLength="8.70" lengthAdjust="spacingAndGlyphs">15</tspan><tspan font-size="9.09" x="400.90" textLength="43.50" lengthAdjust="spacing">、噪声：≤</tspan><tspan font-size="9.57" x="444.60" textLength="8.70" lengthAdjust="spacingAndGlyphs">40</tspan><tspan class="mono" font-size="10.53" x="453.40" textLength="8.50" lengthAdjust="spacingAndGlyphs">dB</tspan><tspan font-size="9.09" x="461.80" textLength="8.70" lengthAdjust="spacing">（</tspan><tspan class="mono" font-size="10.53" x="470.80" textLength="4.15" lengthAdjust="spacingAndGlyphs">A</tspan><tspan font-size="9.09" x="474.85" textLength="17.40" lengthAdjust="spacing">）（</tspan><tspan font-size="9.57" x="492.45" textLength="13.05" lengthAdjust="spacingAndGlyphs">100</tspan><tspan class="mono" font-size="10.53" x="505.60" textLength="8.50" lengthAdjust="spacingAndGlyphs">Hz</tspan><tspan font-size="9.09" x="514.00" textLength="34.80" lengthAdjust="spacing">，空载，</tspan><tspan font-size="9.57" x="549.00" textLength="8.70" lengthAdjust="spacingAndGlyphs">10</tspan><tspan class="mono" font-size="10.53" x="557.80" textLength="8.50" lengthAdjust="spacingAndGlyphs">cm</tspan><tspan font-size="9.09" x="566.20" textLength="17.40" lengthAdjust="spacing">）；</tspan></text>
<text class="c87" y="330.2" xml:space="preserve"><tspan font-size="9.57" x="392.40" textLength="8.70" lengthAdjust="spacingAndGlyphs">16</tspan><tspan font-size="9.09" x="400.90" textLength="52.20" lengthAdjust="spacing">、摩擦力矩：</tspan><tspan font-size="9.57" x="453.30" textLength="8.70" lengthAdjust="spacingAndGlyphs">60</tspan><tspan font-size="9.09" x="461.80" textLength="8.70" lengthAdjust="spacing">～</tspan><tspan font-size="9.57" x="470.70" textLength="13.05" lengthAdjust="spacingAndGlyphs">294</tspan><tspan class="mono" font-size="10.53" x="483.85" textLength="8.50" lengthAdjust="spacingAndGlyphs">mN</tspan><tspan font-size="9.57" x="493.43" textLength="2.39" lengthAdjust="spacing">.</tspan><tspan class="mono" font-size="10.53" x="496.90" textLength="4.15" lengthAdjust="spacingAndGlyphs">m</tspan><tspan font-size="9.09" x="500.95" textLength="8.70" lengthAdjust="spacing">；</tspan></text>
<text class="c87" y="341.8" xml:space="preserve"><tspan font-size="9.57" x="392.40" textLength="8.70" lengthAdjust="spacingAndGlyphs">17</tspan><tspan font-size="9.09" x="400.90" textLength="69.60" lengthAdjust="spacing">、端子引角规格：</tspan><tspan font-size="9.57" x="470.70" textLength="4.35" lengthAdjust="spacingAndGlyphs">5</tspan><tspan class="mono" font-size="10.53" x="475.15" textLength="4.15" lengthAdjust="spacingAndGlyphs">P</tspan><tspan font-size="9.57" x="479.48" textLength="17.24" lengthAdjust="spacing">*1.5</tspan></text>
<text class="c87" y="353.5" xml:space="preserve"><tspan font-size="9.57" x="392.40" textLength="8.70" lengthAdjust="spacingAndGlyphs">18</tspan><tspan font-size="9.09" x="400.90" textLength="69.60" lengthAdjust="spacing">、输出轴垂直度：</tspan><tspan font-size="9.57" x="470.70" textLength="8.70" lengthAdjust="spacingAndGlyphs">90</tspan><tspan font-size="9.09" x="479.20" textLength="8.70" lengthAdjust="spacing">±</tspan><tspan font-size="9.57" x="488.10" textLength="4.35" lengthAdjust="spacingAndGlyphs">1</tspan><tspan font-size="9.09" x="492.25" textLength="8.70" lengthAdjust="spacing">°</tspan></text>
<text class="c87" y="365.1" xml:space="preserve"><tspan font-size="9.57" x="392.40" textLength="8.70" lengthAdjust="spacingAndGlyphs">19</tspan><tspan font-size="9.09" x="400.90" textLength="52.20" lengthAdjust="spacing">、轴向间隙：</tspan><tspan font-size="9.57" x="453.30" textLength="39.14" lengthAdjust="spacing">0.05~~0.3</tspan><tspan class="mono" font-size="10.53" x="492.55" textLength="8.50" lengthAdjust="spacingAndGlyphs">MM</tspan></text>
<text class="c87" y="376.8" xml:space="preserve"><tspan font-size="9.57" x="392.40" textLength="8.70" lengthAdjust="spacingAndGlyphs">20</tspan><tspan font-size="9.09" x="400.90" textLength="147.90" lengthAdjust="spacing">、括号内尺寸为参考尺寸，未注公差按</tspan><tspan class="mono" font-size="10.53" x="549.10" textLength="8.50" lengthAdjust="spacingAndGlyphs">GB</tspan><tspan font-size="9.57" x="558.55" textLength="2.66" lengthAdjust="spacing">/</tspan><tspan class="mono" font-size="10.53" x="562.15" textLength="4.15" lengthAdjust="spacingAndGlyphs">T</tspan><tspan font-size="9.57" x="566.40" textLength="21.75" lengthAdjust="spacingAndGlyphs">1804-</tspan><tspan class="mono" font-size="10.53" x="588.25" textLength="4.15" lengthAdjust="spacingAndGlyphs">m</tspan><tspan font-size="9.09" x="592.30" textLength="17.40" lengthAdjust="spacing">级。</tspan></text>
<text class="co" x="635.1" y="344.4" textLength="238.0" lengthAdjust="spacingAndGlyphs" transform="rotate(-90 635.1 344.4)">东莞市博厚电机有限公司</text>
<g transform="translate(13.6,543.3) rotate(-90)">
<text class="lt2" x="0.0" y="0.0" textLength="78.0" lengthAdjust="spacingAndGlyphs">三、技术图纸</text>
<text class="lt2" x="78.0" y="0.0">（</text>
<text class="lt2" x="94.7" y="0.0" textLength="18.9" lengthAdjust="spacingAndGlyphs">DWG</text>
<text class="lt2" x="113.5" y="0.0">）</text>
</g>
<text class="c11" x="629.9" y="528.0" textLength="23.0" lengthAdjust="spacingAndGlyphs" transform="rotate(-90 629.9 528.0)">公差</text>
<path fill="#000" d="M604.5,458.5 L626.2,425.6 L628.3,424.1 L631,423.6 L633.4,423.9 L634.9,425 L635.3,426.3 L634.6,427.2 L630.4,428.5 L628,431.5 L627.2,434.9 L629,436.3 L631.5,434.5 L634.6,432.1 L637,430.2 L637,450.5 L631.5,451.4 L634,444.8 L632.3,444.6 L625.6,453 L618.8,454.9 L624.6,442.2 L611.9,456.7 Z"/>
<text class="d" x="605.9" y="423.9" text-anchor="middle" style="font-size:8px;fill:#333">®</text>
</svg>
</body></html>
